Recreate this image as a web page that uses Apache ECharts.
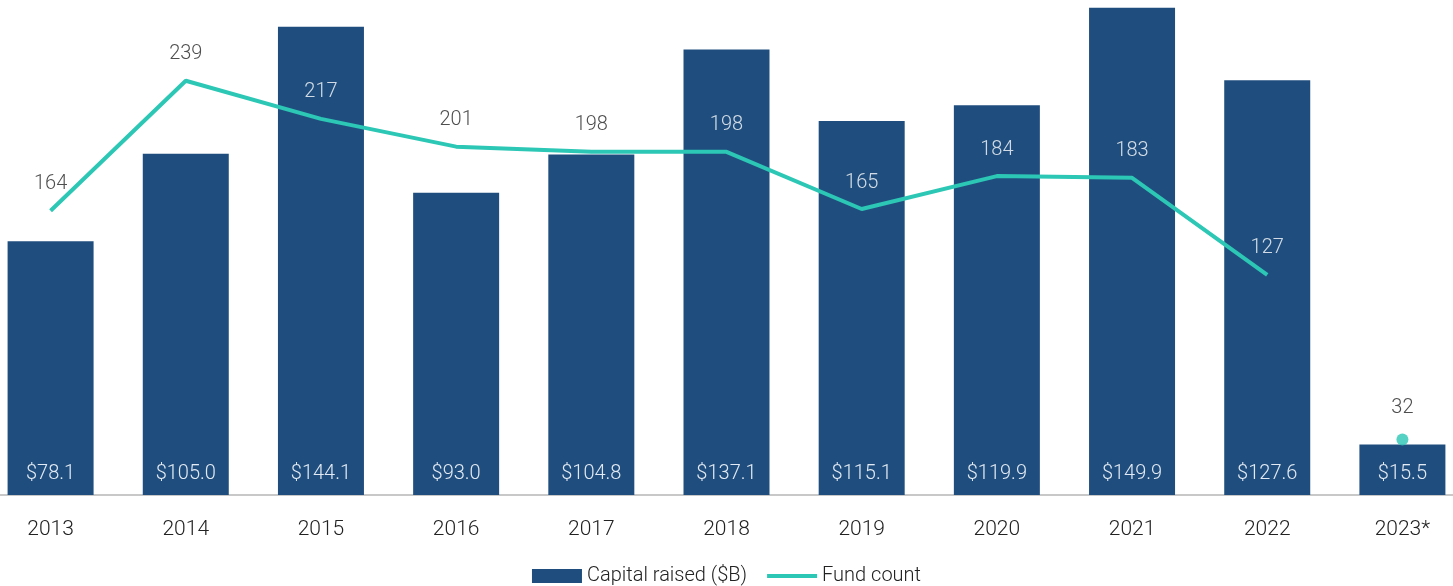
<!DOCTYPE html>
<html>
<head>
<meta charset="utf-8">
<script src="https://cdn.jsdelivr.net/npm/echarts@6/dist/echarts.min.js"></script>
<style>
  html, body { margin: 0; padding: 0; background: #fff; overflow: hidden; }
  /* chart is a bit wider than the window so the outer bars touch the edges like the original */
  #chart { width: 1487px; height: 586px; margin-left: -17px; }
</style>
</head>
<body>
<div id="chart"></div>
<script>
const years = ['2013', '2014', '2015', '2016', '2017', '2018', '2019', '2020', '2021', '2022', '2023*'];
const capitalRaised = [78.1, 105.0, 144.1, 93.0, 104.8, 137.1, 115.1, 119.9, 149.9, 127.6, 15.5];
const fundCount = [164, 239, 217, 201, 198, 198, 165, 184, 183, 127, 32];

const FONT = 'Roboto, "Noto Sans", sans-serif';
const BAR_MAX = 152.3;
const LINE_MAX = 285.6;
const last = fundCount.length - 1;

// label of the line goes white when it sits over a bar
function countLabel(i) {
  const barTop = capitalRaised[i] / BAR_MAX;
  const labelPos = fundCount[i] / LINE_MAX + 0.055;
  return barTop > labelPos + 0.02 ? 'w' : 'd';
}

const chart = echarts.init(document.getElementById('chart'));
const option = {
  animation: false,
  textStyle: { fontFamily: FONT, fontWeight: 300 },
  legend: {
    top: 561,
    left: 'center',
    itemGap: 20,
    itemWidth: 50,
    itemHeight: 14,
    textStyle: { fontSize: 20, color: '#222', fontFamily: FONT, fontWeight: 300 },
    data: [
      { name: 'Capital raised ($B)', icon: 'rect' },
      { name: 'Fund count', icon: 'path://M0,0L50,0L50,4L0,4Z' }
    ]
  },
  grid: { left: 0, right: 0, top: 0, bottom: 91 },
  xAxis: {
    type: 'category',
    data: years,
    axisTick: { show: false },
    axisLine: { show: true, lineStyle: { color: '#c8c8c8', width: 2 } },
    axisLabel: { fontSize: 21, color: '#222', margin: 24, fontFamily: FONT, fontWeight: 300 }
  },
  yAxis: [
    { type: 'value', min: 0, max: BAR_MAX, show: false, splitLine: { show: false } },
    { type: 'value', min: 0, max: LINE_MAX, show: false, splitLine: { show: false } }
  ],
  series: [
    {
      name: 'Capital raised ($B)',
      type: 'bar',
      data: capitalRaised,
      barWidth: 86,
      itemStyle: { color: '#1f4e7e' },
      label: {
        show: true,
        position: 'insideBottom',
        distance: 11,
        fontSize: 20,
        color: '#e3eaf3',
        fontFamily: FONT,
        fontWeight: 300,
        formatter: p => '$' + p.value.toFixed(1)
      }
    },
    {
      name: 'Fund count',
      type: 'line',
      yAxisIndex: 1,
      data: fundCount.map((v, i) => (i < last ? v : '-')),
      symbol: 'none',
      lineStyle: { color: '#2cc7b5', width: 4 },
      itemStyle: { color: '#2cc7b5' },
      z: 3
    },
    {
      // value labels of the fund count line, plus the lone 2023 dot
      name: 'Fund count labels',
      type: 'scatter',
      yAxisIndex: 1,
      data: fundCount.map((v, i) => ({
        value: v,
        symbolSize: i === last ? 12 : 1,
        itemStyle: { color: i === last ? '#2cc7b5' : 'rgba(0,0,0,0)' }
      })),
      symbol: 'circle',
      label: {
        show: true,
        position: 'top',
        distance: 16,
        formatter: p => '{' + countLabel(p.dataIndex) + '|' + p.value + '}',
        rich: {
          w: { color: '#ffffff', fontSize: 20, fontFamily: FONT, fontWeight: 300 },
          d: { color: '#222222', fontSize: 20, fontFamily: FONT, fontWeight: 300 }
        }
      },
      z: 4
    }
  ]
};
chart.setOption(option);
</script>
</body>
</html>
